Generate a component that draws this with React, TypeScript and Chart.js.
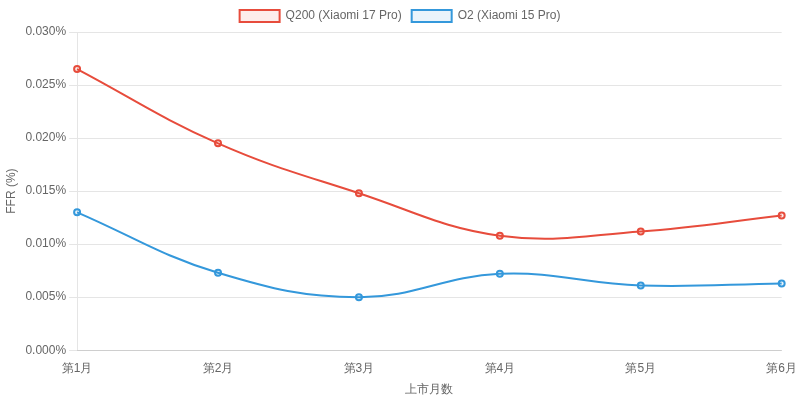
import React, { useEffect, useRef } from "react"
import Chart from "chart.js/auto"

const months = ["第1月", "第2月", "第3月", "第4月", "第5月", "第6月"]
const q200 = [0.0265, 0.0195, 0.0148, 0.0108, 0.0112, 0.0127]
const o2 = [0.013, 0.0073, 0.005, 0.0072, 0.0061, 0.0063]

export default function App() {
  const canvasRef = useRef<HTMLCanvasElement>(null)
  const chartRef = useRef<Chart | null>(null)

  useEffect(() => {
    document.body.style.margin = "0"
    if (!canvasRef.current) return
    const ctx = canvasRef.current.getContext("2d")
    if (!ctx) return

    chartRef.current?.destroy()

    Chart.defaults.font.family = "Arial, 'Liberation Sans', sans-serif"
    Chart.defaults.color = "#666"

    chartRef.current = new Chart(ctx, {
      type: "line",
      data: {
        labels: months,
        datasets: [
          {
            label: "Q200 (Xiaomi 17 Pro)",
            data: q200,
            borderColor: "#e74c3c",
            backgroundColor: "rgba(231, 76, 60, 0.1)",
            borderWidth: 2,
            pointRadius: 3,
            tension: 0.4,
          },
          {
            label: "O2 (Xiaomi 15 Pro)",
            data: o2,
            borderColor: "#3498db",
            backgroundColor: "rgba(52, 152, 219, 0.1)",
            borderWidth: 2,
            pointRadius: 3,
            tension: 0.4,
          },
        ],
      },
      options: {
        responsive: true,
        maintainAspectRatio: false,
        animation: false,
        plugins: {
          legend: { position: "top" },
        },
        scales: {
          x: {
            grid: { display: false },
            title: { display: true, text: "上市月数" },
          },
          y: {
            beginAtZero: true,
            max: 0.03,
            title: { display: true, text: "FFR (%)" },
            ticks: {
              stepSize: 0.005,
              callback: (value) => `${Number(value).toFixed(3)}%`,
            },
          },
        },
      },
    })

    return () => {
      chartRef.current?.destroy()
      chartRef.current = null
    }
  }, [])

  return (
    <div style={{ width: 800, height: 401, position: "relative" }}>
      <canvas ref={canvasRef} />
    </div>
  )
}
